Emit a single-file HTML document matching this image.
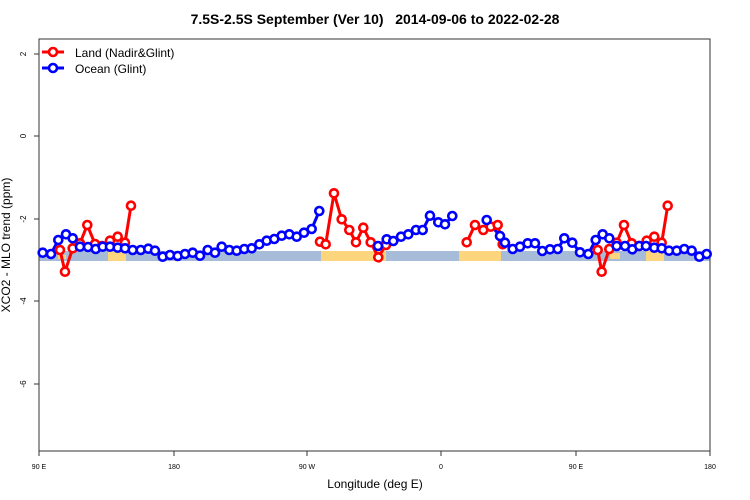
<!DOCTYPE html>
<html><head><style>body{margin:0;background:#fff}svg{display:block}text{font-family:"Liberation Sans",sans-serif}</style></head><body>
<svg width="750" height="500" viewBox="0 0 750 500">
<text x="375" y="24" text-anchor="middle" font-size="14" font-weight="bold">7.5S-2.5S September (Ver 10)&#160;&#160; 2014-09-06 to 2022-02-28</text>
<rect x="39" y="251" width="671" height="10" fill="#a7bcd9"/>
<g fill="#fcd57c">
<rect x="58" y="255" width="8" height="4"/><rect x="108" y="251" width="18" height="10"/>
<rect x="321" y="251" width="65" height="10"/><rect x="459" y="251" width="42" height="10"/>
<rect x="610" y="253" width="10" height="6"/><rect x="646" y="251" width="18" height="10"/>
</g>
<path d="M39 39V451H710V39Z" fill="none" stroke="#333" stroke-width="1"/>
<g stroke="#333"><line x1="34" y1="54" x2="39" y2="54"/><line x1="34" y1="136" x2="39" y2="136"/><line x1="34" y1="219" x2="39" y2="219"/><line x1="34" y1="301" x2="39" y2="301"/><line x1="34" y1="384" x2="39" y2="384"/>
<line x1="39" y1="451" x2="39" y2="456"/><line x1="174" y1="451" x2="174" y2="456"/><line x1="307" y1="451" x2="307" y2="456"/><line x1="441" y1="451" x2="441" y2="456"/><line x1="576" y1="451" x2="576" y2="456"/><line x1="710" y1="451" x2="710" y2="456"/></g>
<g font-size="8" text-anchor="middle">
<text transform="translate(26,54) rotate(-90)">2</text><text transform="translate(26,136) rotate(-90)">0</text><text transform="translate(26,219) rotate(-90)">-2</text><text transform="translate(26,301) rotate(-90)">-4</text><text transform="translate(26,384) rotate(-90)">-6</text>
<text x="39" y="469" font-size="7">90 E</text><text x="174" y="469" font-size="7">180</text><text x="307" y="469" font-size="7">90 W</text><text x="441" y="469" font-size="7">0</text><text x="576" y="469" font-size="7">90 E</text><text x="710" y="469" font-size="7">180</text></g>
<text x="375" y="488" text-anchor="middle" font-size="12">Longitude (deg E)</text>
<text transform="translate(10,245) rotate(-90)" text-anchor="middle" font-size="12">XCO2 - MLO trend (ppm)</text>
<g fill="#fff" stroke-width="3">
<g stroke="#f00"><polyline fill="none" points="60,250 65,271.7 72.7,248.3 80,243.3 87.3,225 95,244 102,246 110,240.7 117.7,236.7 125,242.7 131,205.7"/>
<polyline fill="none" points="320,241.7 325.7,244.3 334,193.3 341.7,219.3 349.3,230 356,242.3 363.3,227.7 370.7,242.3 378.3,257.3 386,245"/>
<polyline fill="none" points="466.7,242.3 475,225 483.3,230 490.7,226.7 497.7,225 502.7,244.3"/>
<polyline fill="none" points="597.7,250 601.7,271.7 609.3,249 616.7,242.7 624,225 631.7,243.3 639,246 646.7,240.7 654.3,236.7 661.7,242.7 667.7,205.7"/>
</g>
<g stroke="#00f"><polyline fill="none" points="42.7,252.7 51,254 58.3,240 66,234.3 72.7,238.3 80,246.7 88,247 95.7,249 102.7,246.7 110,246.7 117.7,247.7 125,248.3 132.7,250 140.7,250 148.3,248.7 155,250.7 162.7,256.7 170,255 177.7,256 185,254 192.7,252.7 200,255.7 207.7,250 215,252.7 221.7,246.7 229.3,250 236.7,250.7 244.3,249 251.7,248.3 259.3,244.3 266.7,240.7 274.3,239 281.7,235.7 289.3,234.3 296.7,236.7 304,232.7 311.7,229 319.3,211"/>
<polyline fill="none" points="378,246 386.7,239.3 393.3,241 401,236.7 408.3,234.3 416,230 422.7,230 430,215.7 438.3,222.3 445,224.3 452.3,216"/>
<polyline fill="none" points="486.7,220 500,236 505,242.7 512.7,249 520,246.7 527.7,243.3 535,243.3 542.3,251 550,249.3 557.7,249 564.3,238.3 572.3,242.7 580,252.3 588.3,254 595.7,240 602.7,234.3 609.3,238.3 616.7,246 625,246 632.3,249.3 639.3,246 646,246 654.3,247.7 661.7,248.3 669,250.7 676.7,250.7 684.3,249 691.7,250.7 699.3,256.7 706.7,254"/></g>
</g>
<g id="pts" fill="#fff" stroke-width="2.6"></g>
<g stroke-width="3"><line x1="42" y1="52" x2="64" y2="52" stroke="#f00"/><line x1="42" y1="68" x2="64" y2="68" stroke="#00f"/>
<circle cx="53" cy="52" r="4" fill="#fff" stroke="#f00" stroke-width="2.6"/><circle cx="53" cy="68" r="4" fill="#fff" stroke="#00f" stroke-width="2.6"/></g>
<text x="75" y="57" font-size="12">Land (Nadir&amp;Glint)</text>
<text x="75" y="73" font-size="12">Ocean (Glint)</text>
<script>
var g=document.getElementById('pts'),ns='http://www.w3.org/2000/svg';
document.querySelectorAll('polyline').forEach(function(p){var c=p.parentNode.getAttribute('stroke');
p.getAttribute('points').trim().split(/\s+/).forEach(function(s){var a=s.split(',');var e=document.createElementNS(ns,'circle');e.setAttribute('cx',a[0]);e.setAttribute('cy',a[1]);e.setAttribute('r','4');e.setAttribute('stroke',c);g.appendChild(e);});});
</script>
</svg>
</body></html>
